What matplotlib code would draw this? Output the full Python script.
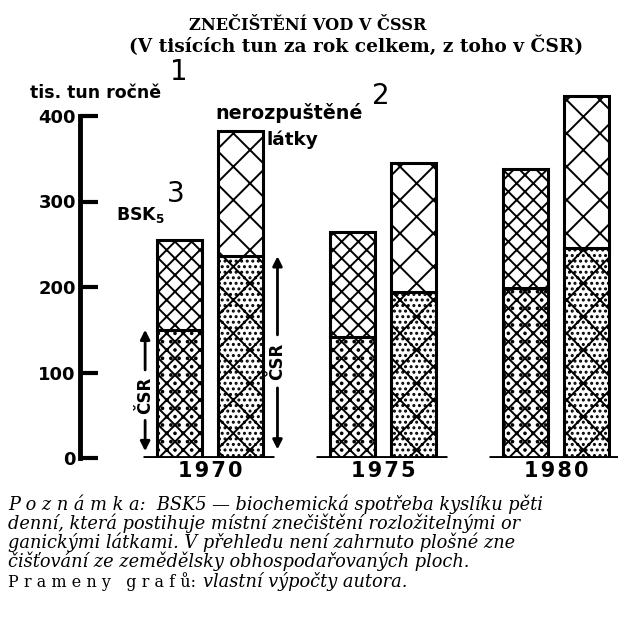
import matplotlib
matplotlib.use("Agg")
import matplotlib.pyplot as plt
from matplotlib.font_manager import FontProperties
import numpy as np

# ---- data ----
years = ["1970", "1975", "1980"]
bsk_total = [255, 264, 338]      # BSK5 celkem (ČSSR)
bsk_csr = [150, 141, 199]        # BSK5 z toho ČSR
nl_total = [382, 345, 423]       # nerozpuštěné látky celkem
nl_csr = [236, 194, 246]         # nerozpuštěné látky z toho ČSR
yticks = [0, 100, 200, 300, 400]

plt.rcParams['hatch.linewidth'] = 1.4

W, H = 618, 621
fig = plt.figure(figsize=(W / 100, H / 100), dpi=100)
fig.patch.set_facecolor("white")
renderer = fig.canvas.get_renderer()


def fit(t, target_px):
    bb = t.get_window_extent(renderer)
    t.set_fontsize(t.get_fontsize() * target_px / bb.width)
    return t


# axes placed so that 0 -> y=458px, 400 -> y=116px
y0_px, y400_px = 458, 116
ppu = (y0_px - y400_px) / 400.0
ytop = 430
ax_left_px, ax_right_px = 80, 618
ax = fig.add_axes([ax_left_px / W, (H - y0_px) / H,
                   (ax_right_px - ax_left_px) / W, ytop * ppu / H])
grp_px = 173.0
x0_px = 210.0
ax.set_xlim((ax_left_px - x0_px) / grp_px, (ax_right_px - x0_px) / grp_px)
ax.set_ylim(0, ytop)

x = np.arange(len(years))
off = 0.175
bw = 0.26
lw = 2.2
bsk_top = [t - c for t, c in zip(bsk_total, bsk_csr)]
nl_top = [t - c for t, c in zip(nl_total, nl_csr)]

ax.bar(x - off, bsk_csr, width=bw, facecolor="white", edgecolor="black",
       hatch="xx..", linewidth=lw, zorder=3)
ax.bar(x - off, bsk_top, bottom=bsk_csr, width=bw, facecolor="white",
       edgecolor="black", hatch="xx", linewidth=lw, zorder=3)
ax.bar(x + off, nl_csr, width=bw, facecolor="white", edgecolor="black",
       hatch="x...", linewidth=lw, zorder=3)
ax.bar(x + off, nl_top, bottom=nl_csr, width=bw, facecolor="white",
       edgecolor="black", hatch="x", linewidth=lw, zorder=3)

# baselines under each group
for xi in x:
    ax.hlines(0, xi - 0.39, xi + 0.37, color="black", linewidth=3.5, zorder=4)

# axis styling
for s in ["top", "right", "bottom"]:
    ax.spines[s].set_visible(False)
ax.spines["left"].set_linewidth(3.5)
ax.spines["left"].set_bounds(0, 400)
ax.set_yticks(yticks)
ax.set_yticklabels([str(v) for v in yticks], fontsize=13, fontweight="bold")
ax.tick_params(axis="y", direction="in", length=13, width=3, pad=3)
ax.set_xticks(x)
ax.set_xticklabels(["\u200a".join(y) for y in years], fontsize=15,
                   fontweight="bold")
ax.tick_params(axis="x", length=0, pad=2)


# ČSR arrows
def csr_arrow(xp, lo, hi, t_lo, t_hi):
    ap = dict(arrowstyle="-|>", lw=2, color="black", mutation_scale=14,
              shrinkA=0, shrinkB=0)
    ax.annotate("", xy=(xp, hi), xytext=(xp, t_hi), arrowprops=ap, zorder=5)
    ax.annotate("", xy=(xp, lo), xytext=(xp, t_lo), arrowprops=ap, zorder=5)
    ax.text(xp, (t_lo + t_hi) / 2, "ČSR", rotation=90, ha="center",
            va="center", fontsize=12, fontweight="bold", zorder=5)


csr_arrow(x[0] - 0.375, 8, bsk_csr[0], 44, 103)
csr_arrow(x[0] + 0.39, 10, nl_csr[0], 82, 144)

# title texts
t1 = fig.text(308 / W, 1 - 25 / H, "ZNEČIŠTĚNÍ VOD V ČSSR", ha="center",
              va="center", fontsize=12, fontweight="bold",
              family="DejaVu Serif")
fit(t1, 238)
t2 = fig.text(356 / W, 1 - 46 / H,
              "(V tisících tun za rok celkem, z toho v ČSR)",
              ha="center", va="center", fontsize=12, fontweight="bold",
              family="DejaVu Serif")
fit(t2, 453)

# labels
lab = dict(ha="left", va="center", fontweight="bold", family="DejaVu Sans")
t = fig.text(30 / W, 1 - 93 / H, "tis. tun ročně", fontsize=13, **lab)
fit(t, 131)
fig.text(170 / W, 1 - 72 / H, "1", ha="left", va="center", fontsize=20)
t = fig.text(215 / W, 1 - 113 / H, "nerozpuštěné", fontsize=14, **lab)
fit(t, 148)
fig.text(372 / W, 1 - 96 / H, "2", ha="left", va="center", fontsize=20)
t = fig.text(266 / W, 1 - 140 / H, "látky", fontsize=14, **lab)
fit(t, 52)
fig.text(116 / W, 1 - 215 / H, "BSK$_\\mathbf{5}$", ha="left", va="center",
         fontsize=12.5, fontweight="bold")
fig.text(167 / W, 1 - 194 / H, "3", ha="left", va="center", fontsize=20)

# note (one multi-line text, tight line spacing)
note_lines = [
    "P o z n á m k a:  BSK5 — biochemická spotřeba kyslíku pěti",
    "denní, která postihuje místní znečištění rozložitelnými or",
    "ganickými látkami. V přehledu není zahrnuto plošné zne",
    "čišťování ze zemědělsky obhospodařovaných ploch.",
]
nfs = 12.8
fp = FontProperties(family="DejaVu Serif", style="italic", size=nfs)
_, lp_h, lp_d = renderer.get_text_width_height_descent("lp", fp, ismath=False)
asc, desc = lp_h - lp_d, lp_d
for ln in note_lines:
    _, hh, dd = renderer.get_text_width_height_descent(ln, fp, ismath=False)
    asc = max(asc, max(hh, lp_h) - max(dd, lp_d))
    desc = max(desc, dd)
lsp = (18.8 - desc) / asc
note = fig.text(8 / W, 1 - 495 / H, "\n".join(note_lines), ha="left",
                va="top", fontproperties=fp, linespacing=lsp)
nb = note.get_window_extent(renderer)

src_fp = FontProperties(family="DejaVu Serif", size=nfs * 0.9)
src_top = H - nb.y0 + 1
ts = fig.text(8 / W, 1 - src_top / H, "P r a m e n y   g r a f ů:",
              ha="left", va="top", fontproperties=src_fp)
sw = ts.get_window_extent(renderer).width
fig.text((8 + sw + 7) / W, 1 - src_top / H, "vlastní výpočty autora.",
         ha="left", va="top", fontproperties=fp)

fig.savefig("out.png", dpi=100)
